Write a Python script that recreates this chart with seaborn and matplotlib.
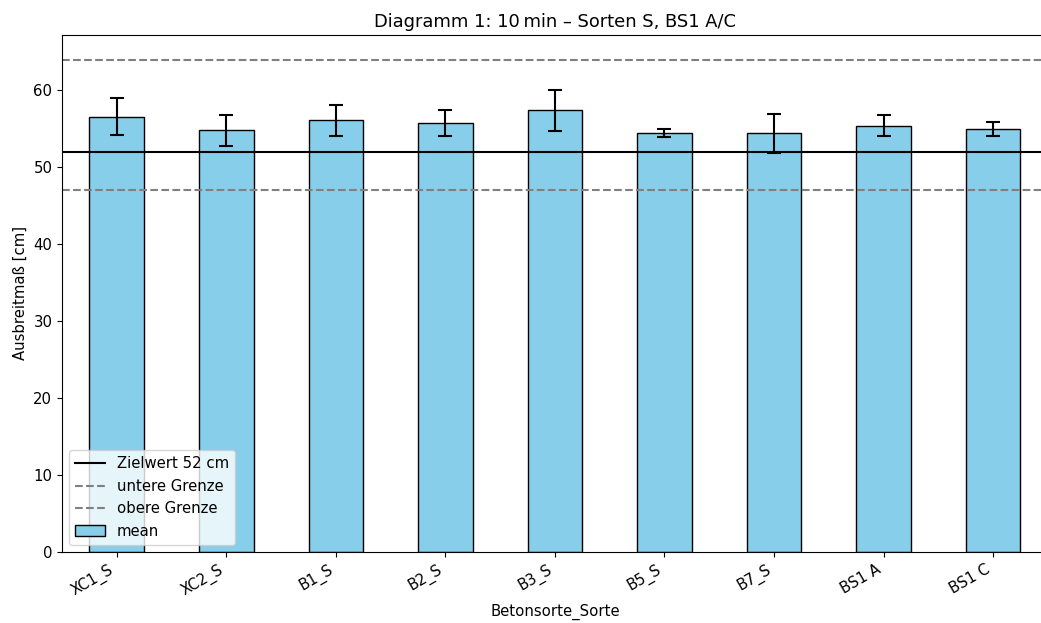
import matplotlib
matplotlib.use("Agg")
import matplotlib.pyplot as plt
from matplotlib.lines import Line2D
from matplotlib.patches import Patch
import seaborn as sns
import pandas as pd

# Flow table spread after 10 minutes per concrete mix
sorten = ["XC1_S", "XC2_S", "B1_S", "B2_S", "B3_S", "B5_S", "B7_S", "BS1 A", "BS1 C"]
mittelwerte = [56.6, 54.8, 56.1, 55.8, 57.4, 54.5, 54.4, 55.4, 55.0]
standardabw = [2.4, 2.0, 2.0, 1.7, 2.7, 0.5, 2.5, 1.35, 0.9]

zielwert = 52
untere_grenze = 47
obere_grenze = 64

df = pd.DataFrame({"Betonsorte_Sorte": sorten, "mean": mittelwerte, "std": standardabw})

plt.rcParams["font.size"] = 10.7

fig = plt.figure(figsize=(10.41, 6.23), dpi=100)
ax = fig.add_axes([0.0596, 0.114, 0.947, 0.8298])

sns.barplot(data=df, x="Betonsorte_Sorte", y="mean", width=0.5, color="skyblue",
            edgecolor="black", linewidth=1.0, saturation=1, errorbar=None, ax=ax)
ax.errorbar(range(len(sorten)), df["mean"], yerr=df["std"], fmt="none",
            ecolor="black", elinewidth=1.5, capsize=5, capthick=1.5)

ax.axhline(zielwert, color="black", linewidth=1.5)
ax.axhline(untere_grenze, color="grey", linestyle="--", linewidth=1.5)
ax.axhline(obere_grenze, color="grey", linestyle="--", linewidth=1.5)
ax.set_xlim(-0.5, len(sorten) - 0.5)

handles = [
    Line2D([], [], color="black", linewidth=1.5),
    Line2D([], [], color="grey", linestyle="--", linewidth=1.5),
    Line2D([], [], color="grey", linestyle="--", linewidth=1.5),
    Patch(facecolor="skyblue", edgecolor="black"),
]
labels = [f"Zielwert {zielwert} cm", "untere Grenze", "obere Grenze", "mean"]
ax.legend(handles, labels, loc="lower left")

ax.set_title("Diagramm 1: 10\u2009min \u2013 Sorten S, BS1 A/C")
ax.set_xlabel("Betonsorte_Sorte")
ax.set_ylabel("Ausbreitmaß [cm]")
plt.setp(ax.get_xticklabels(), rotation=30, ha="right")

fig.savefig("out.png", dpi=100)
